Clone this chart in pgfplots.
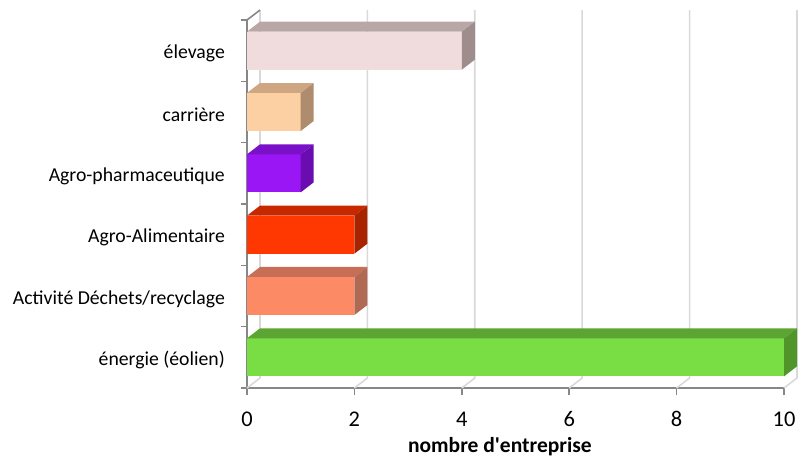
\documentclass[border=0pt]{standalone}
\usepackage{pgfplots}
\pgfplotsset{compat=1.18}
\usepackage{fontspec}
\setmainfont{Carlito}
\definecolor{axisgray}{HTML}{878787}
\definecolor{gridc}{HTML}{D9D9D9}
\definecolor{elevF}{HTML}{F0DCDC}
\definecolor{elevT}{HTML}{B9A6A6}
\definecolor{elevS}{HTML}{9E8D8C}
\definecolor{carF}{HTML}{FCD0A2}
\definecolor{carT}{HTML}{CEA682}
\definecolor{carS}{HTML}{AE8C6D}
\definecolor{pharF}{HTML}{9A16F5}
\definecolor{pharT}{HTML}{7A10C8}
\definecolor{pharS}{HTML}{6A0DB0}
\definecolor{alimF}{HTML}{FF3700}
\definecolor{alimT}{HTML}{C82800}
\definecolor{alimS}{HTML}{A82300}
\definecolor{dechF}{HTML}{FC8A64}
\definecolor{dechT}{HTML}{C86E56}
\definecolor{dechS}{HTML}{B06A54}
\definecolor{enerF}{HTML}{78DE44}
\definecolor{enerT}{HTML}{5CA533}
\definecolor{enerS}{HTML}{50952A}
\begin{document}
\begin{tikzpicture}
\path[use as bounding box] (0,0) rectangle (800bp,459bp);
\begin{axis}[
  at={(247bp,71bp)}, anchor=south west,
  x=53.7bp, y=61.33bp,
  xmin=0, xmax=10, ymin=-0.5, ymax=5.5,
  axis lines=left,
  axis line style={-, draw=axisgray, line width=1.6bp},
  clip=false,
  xtick={0,2,4,6,8,10},
  ytick={0,1,2,3,4,5},
  yticklabels={énergie (éolien), Activité Déchets/recyclage, Agro-Alimentaire, Agro-pharmaceutique, carrière, élevage},
  minor ytick={-0.5,0.5,1.5,2.5,3.5,4.5,5.5},
  tick align=outside,
  major tick length=7bp,
  minor tick length=6bp,
  tick style={axisgray, line width=1.6bp},
  major y tick style={draw=none},
  /pgf/number format/assume math mode=true,
  xticklabel style={font=\fontsize{22.5}{27}\selectfont, anchor=center, yshift=-24bp},
  yticklabel style={font=\fontsize{19.8}{24}\selectfont, anchor=east, inner sep=0pt, xshift=-15bp, yshift=-3bp},
  xlabel={\bfseries nombre d\textquotesingle entreprise},
  xlabel style={font=\fontsize{21.6}{26}\selectfont, at={(axis description cs:0.471,0)}, anchor=center, yshift=-59bp},
]
% back wall / floor grid
\addplot[gridc, line width=1.6bp] coordinates {(0,-0.5)(0.242,-0.337)(0.242,5.663)};
\addplot[gridc, line width=1.6bp] coordinates {(2,-0.5)(2.242,-0.337)(2.242,5.663)};
\addplot[gridc, line width=1.6bp] coordinates {(4,-0.5)(4.242,-0.337)(4.242,5.663)};
\addplot[gridc, line width=1.6bp] coordinates {(6,-0.5)(6.242,-0.337)(6.242,5.663)};
\addplot[gridc, line width=1.6bp] coordinates {(8,-0.5)(8.242,-0.337)(8.242,5.663)};
\addplot[gridc, line width=1.6bp] coordinates {(10,-0.5)(10.242,-0.337)(10.242,5.663)};
\addplot[axisgray, line width=1.6bp] coordinates {(0,5.5)(0.242,5.663)};
% élevage (4)
\addplot[xbar, bar width=38bp, fill=elevF, draw=none] coordinates {(4,5)};
\addplot[fill=elevT, draw=none] coordinates {(0,5.31)(4,5.31)(4.242,5.473)(0.242,5.473)};
\addplot[fill=elevS, draw=none] coordinates {(4,4.69)(4.242,4.853)(4.242,5.473)(4,5.31)};
% carrière (1)
\addplot[xbar, bar width=38bp, fill=carF, draw=none] coordinates {(1,4)};
\addplot[fill=carT, draw=none] coordinates {(0,4.31)(1,4.31)(1.242,4.473)(0.242,4.473)};
\addplot[fill=carS, draw=none] coordinates {(1,3.69)(1.242,3.853)(1.242,4.473)(1,4.31)};
% Agro-pharmaceutique (1)
\addplot[xbar, bar width=38bp, fill=pharF, draw=none] coordinates {(1,3)};
\addplot[fill=pharT, draw=none] coordinates {(0,3.31)(1,3.31)(1.242,3.473)(0.242,3.473)};
\addplot[fill=pharS, draw=none] coordinates {(1,2.69)(1.242,2.853)(1.242,3.473)(1,3.31)};
% Agro-Alimentaire (2)
\addplot[xbar, bar width=38bp, fill=alimF, draw=none] coordinates {(2,2)};
\addplot[fill=alimT, draw=none] coordinates {(0,2.31)(2,2.31)(2.242,2.473)(0.242,2.473)};
\addplot[fill=alimS, draw=none] coordinates {(2,1.69)(2.242,1.853)(2.242,2.473)(2,2.31)};
% Activité Déchets/recyclage (2)
\addplot[xbar, bar width=38bp, fill=dechF, draw=none] coordinates {(2,1)};
\addplot[fill=dechT, draw=none] coordinates {(0,1.31)(2,1.31)(2.242,1.473)(0.242,1.473)};
\addplot[fill=dechS, draw=none] coordinates {(2,0.69)(2.242,0.853)(2.242,1.473)(2,1.31)};
% énergie (éolien) (10)
\addplot[xbar, bar width=38bp, fill=enerF, draw=none] coordinates {(10,0)};
\addplot[fill=enerT, draw=none] coordinates {(0,0.31)(10,0.31)(10.242,0.473)(0.242,0.473)};
\addplot[fill=enerS, draw=none] coordinates {(10,-0.31)(10.242,-0.147)(10.242,0.473)(10,0.31)};
\end{axis}
\end{tikzpicture}
\end{document}
